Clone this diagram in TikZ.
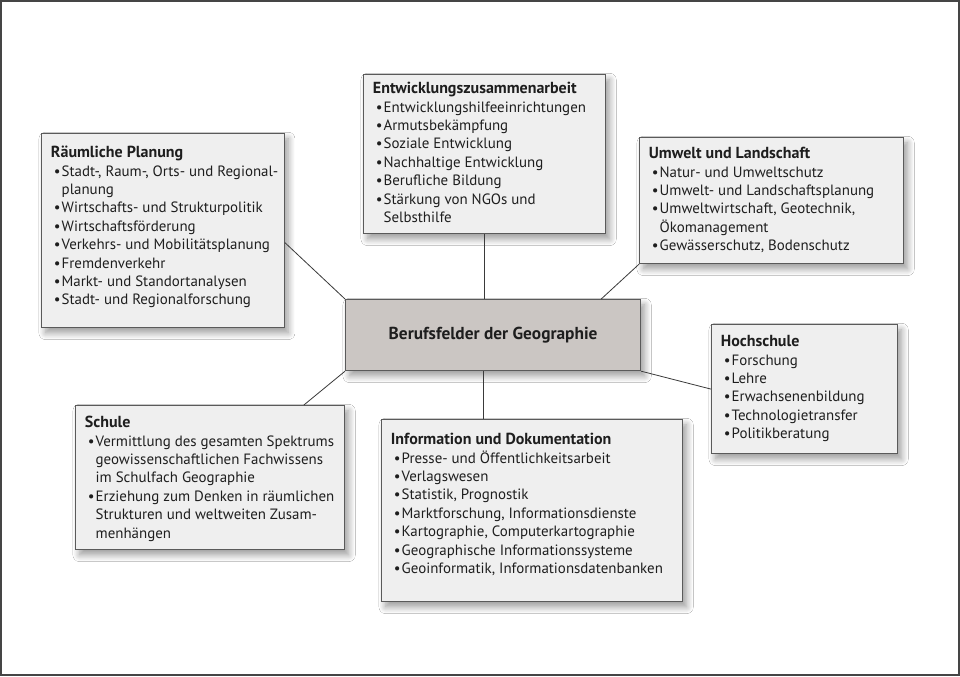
\documentclass[tikz,border=0pt]{standalone}
\usepackage{fontspec}
\setmainfont{PT Sans}
\usetikzlibrary{shadows.blur}

\definecolor{feldgrau}{HTML}{EFEFEF}
\definecolor{mittegrau}{HTML}{CBC6C3}
\definecolor{randgrau}{HTML}{5A5A5A}
\definecolor{liniengrau}{HTML}{3A3A3A}
\definecolor{schrift}{HTML}{1E1E1E}
\definecolor{rahmen}{HTML}{454545}

% Kasten mit fester Breite/Hoehe, Text oben links; optional: Abstand bis zur ersten Grundlinie
\newcommand{\feld}[4][18pt]{\parbox[c][#3][t]{#2}{\fontsize{11.2}{13.8}\selectfont\raggedright\def\titelhoehe{#1}#4}}
\newcommand{\titel}[1]{\noindent\rule{0pt}{\titelhoehe}{\fontsize{12}{13.8}\selectfont\bfseries #1}}
\newcommand{\pkt}[1]{\par\hangindent=0.72em\hangafter=1\noindent\hspace*{0.2em}\makebox[0.52em][l]{\textbullet}#1}

\tikzset{
    feld/.style={draw=randgrau, fill=feldgrau, line width=0.9pt, inner xsep=7pt, inner ysep=0pt,
        anchor=north west, text=schrift,
        blur shadow={shadow xshift=3pt, shadow yshift=-4pt, shadow blur radius=5pt, shadow blur steps=12, shadow opacity=40}},
    mitte/.style={feld, fill=mittegrau, minimum width=221.25pt, minimum height=53.25pt,
        font=\fontsize{13}{15}\selectfont\bfseries},
    linie/.style={draw=liniengrau, line width=0.6pt}
}

\begin{document}
\begin{tikzpicture}[x=0.75pt,y=-0.75pt]
    \useasboundingbox (0,0) rectangle (960,676);
    \fill[white] (0,0) rectangle (960,676);
    \draw[rahmen, line width=1.5pt] (1,1) rectangle (959,675);

    % Mitte
    \node[mitte] (mitte) at (345,299) {Berufsfelder der Geographie};

    % Felder rundherum
    \node[feld] (raum) at (41,133) {\feld{168pt}{145.5pt}{\titel{Räumliche Planung}
        \pkt{\mbox{Stadt-, Raum-, Orts- und Regional-}\newline planung}
        \pkt{Wirtschafts- und Strukturpolitik}
        \pkt{Wirtschaftsförderung}
        \pkt{Verkehrs- und Mobilitätsplanung}
        \pkt{Fremdenverkehr}
        \pkt{Markt- und Standortanalysen}
        \pkt{Stadt- und Regionalforschung}}};
    \node[feld] (entw) at (363,74) {\feld[14.25pt]{167.5pt}{119.25pt}{\titel{Entwicklungszusammenarbeit}
        \pkt{Entwicklungshilfeeinrichtungen}
        \pkt{Armutsbekämpfung}
        \pkt{Soziale Entwicklung}
        \pkt{Nachhaltige Entwicklung}
        \pkt{Berufliche Bildung}
        \pkt{Stärkung von NGOs und\newline Selbsthilfe}}};
    \node[feld] (umw) at (639,137) {\feld[15.75pt]{184pt}{94.5pt}{\titel{Umwelt und Landschaft}
        \pkt{Natur- und Umweltschutz}
        \pkt{Umwelt- und Landschaftsplanung}
        \pkt{Umweltwirtschaft, Geotechnik,\newline Ökomanagement}
        \pkt{Gewässerschutz, Bodenschutz}}};
    \node[feld] (hoch) at (711,324) {\feld[16.5pt]{125.5pt}{96.75pt}{\titel{Hochschule}
        \pkt{Forschung}
        \pkt{Lehre}
        \pkt{Erwachsenenbildung}
        \pkt{Technologietransfer}
        \pkt{Politikberatung}}};
    \node[feld] (schule) at (75,405) {\feld[16.5pt]{187.75pt}{108pt}{\titel{Schule}
        \pkt{Vermittlung des gesamten Spektrums\newline geowissenschaftlichen Fachwissens\newline im Schulfach Geographie}
        \pkt{Erziehung zum Denken in räumlichen\newline Strukturen und weltweiten Zusam-\newline menhängen}}};
    \node[feld] (info) at (381,419) {\feld[18.75pt]{211.75pt}{136.5pt}{\titel{Information und Dokumentation}
        \pkt{Presse- und Öffentlichkeitsarbeit}
        \pkt{Verlagswesen}
        \pkt{Statistik, Prognostik}
        \pkt{Marktforschung, Informationsdienste}
        \pkt{Kartographie, Computerkartographie}
        \pkt{Geographische Informationssysteme}
        \pkt{Geoinformatik, Informationsdatenbanken}}};

    % Verbindungen
    \coordinate (achse) at ([xshift=-7pt]mitte.south);
    \draw[linie] ([yshift=-9pt]raum.east) -- (mitte.north west);
    \draw[linie] (entw.south) -- (entw.south |- mitte.north);
    \draw[linie] (umw.south west) -- ([xshift=-30pt]mitte.north east);
    \draw[linie] (mitte.south east) -- (hoch.west);
    \draw[linie] (mitte.south west) -- ([xshift=-31pt]schule.north east);
    \draw[linie] (achse) -- (achse |- info.north);
\end{tikzpicture}
\end{document}
